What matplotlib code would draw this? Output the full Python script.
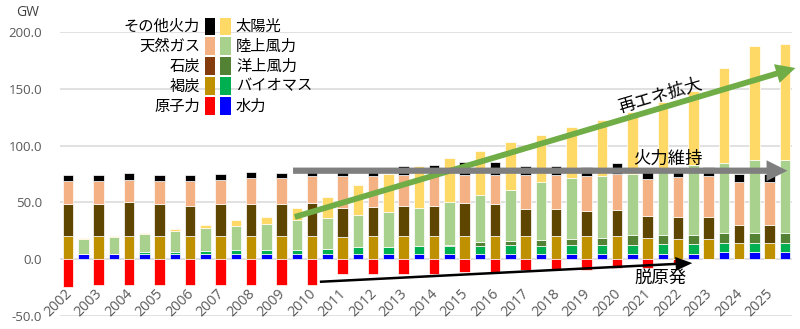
import matplotlib
matplotlib.use("Agg")
import matplotlib.pyplot as plt
from matplotlib.patches import Rectangle, FancyArrowPatch
import numpy as np

plt.rcParams['font.family'] = ['Noto Sans CJK JP', 'DejaVu Sans']

years = [str(y) for y in range(2002, 2026)]

# Conventional (GW)
lignite = [20, 20, 20, 20, 20, 20.3, 20.6, 20.6, 20.6, 19.4, 20.6, 20.6, 20, 20.6, 20.6, 20, 20, 20, 20, 19.1, 18.2, 18.2, 14.1, 14.1]
coal = [28.5, 28.5, 30.6, 28.5, 26.5, 28.2, 27.9, 27.6, 28.5, 25.6, 25.0, 25.9, 26.5, 28.5, 27.6, 24.1, 24.1, 22.6, 23.5, 19.1, 18.6, 18.6, 15.9, 15.9]
gas = [20, 20, 19.1, 20, 22, 21.2, 22.7, 23, 24.4, 27.9, 27.9, 27.9, 27.9, 25.3, 26.2, 30.3, 30.3, 30.9, 31.5, 32.4, 35.2, 36.7, 37.6, 37.6]
other = [5.9, 5.9, 5.9, 5.9, 5.9, 5.3, 5.6, 5.0, 3.0, 6.6, 6.8, 8.0, 8.8, 10.9, 10.9, 7.4, 8.0, 7.4, 9.4, 5.9, 8.3, 8.0, 7.4, 7.4]
nuclear = [-24.4, -23, -22.4, -22.4, -22.4, -22.4, -22.4, -22.4, -22.4, -13.2, -13.2, -13, -13, -11.2, -11, -9.7, -9.7, -9.7, -8.1, -8.1, -3.8, 0, 0, 0]

# Renewables (GW)
hydro = [4.4, 4.4, 4.4, 4.4, 4.4, 4.4, 4.4, 4.4, 4.4, 4.4, 4.4, 4.4, 4.9, 4.4, 4.4, 4.4, 4.4, 4.4, 4.4, 4.4, 4.4, 5.9, 5.9, 5.9]
biomass = [0.5, 0.5, 1.5, 2.1, 2.4, 3.5, 3.5, 4.1, 4.7, 5.9, 6.5, 7.4, 6.9, 7.4, 7.7, 7.4, 7.7, 7.7, 8.2, 8.8, 8.8, 8.8, 8.8, 8.8]
offshore = [0, 0, 0, 0, 0, 0, 0, 0, 0, 0, 0, 0, 1.1, 3.2, 4.1, 5.2, 6.1, 7.0, 8.3, 8.0, 8.0, 8.7, 8.8, 8.8]
onshore = [12.7, 14.8, 16.2, 18.2, 20.6, 21.5, 23.0, 25.9, 27.1, 28.5, 30.9, 33.2, 37.1, 41.5, 45, 50.6, 53, 54.4, 54.1, 56.8, 61.8, 61.3, 64, 64]
solar = [0.9, 0.6, 1.4, 2.1, 2.9, 4.7, 6.5, 10.6, 18.2, 26.5, 32.9, 36.8, 38.8, 39.1, 41.8, 42.1, 45, 49.2, 55, 60, 64.9, 83.2, 100.1, 101.6]

conv_labels = ['その他火力', '天然ガス', '石炭', '褐炭', '原子力']
ren_labels = ['太陽光', '陸上風力', '洋上風力', 'バイオマス', '水力']

c_other, c_gas, c_coal_bar, c_coal_leg, c_lig, c_nuc = '#000000', '#F4B183', '#5F4600', '#843C0C', '#BF9000', '#FF0000'
c_solar, c_on, c_off, c_bio, c_hyd = '#FFD966', '#A9D18E', '#548235', '#00B050', '#0000FF'

fig = plt.figure(figsize=(8, 3.29), dpi=100)
ax = fig.add_axes([60/800, 13/329, 732/800, 284/329])

x = np.arange(len(years))
xc = x - 0.254
xr = x + 0.254
w = 0.34
ek = dict(edgecolor='white', linewidth=0.5)

b = np.zeros(len(years))
for vals, col in [(lignite, c_lig), (coal, c_coal_bar), (gas, c_gas), (other, c_other)]:
    ax.bar(xc, vals, w, bottom=b, color=col, **ek)
    b = b + np.array(vals)
ax.bar(xc, nuclear, w, color=c_nuc, **ek)

b = np.zeros(len(years))
for vals, col in [(hydro, c_hyd), (biomass, c_bio), (offshore, c_off), (onshore, c_on), (solar, c_solar)]:
    ax.bar(xr, vals, w, bottom=b, color=col, **ek)
    b = b + np.array(vals)

ax.set_ylim(-50, 200)
ax.set_xlim(-0.52, 23.48)
yt = [-50, 0, 50, 100, 150, 200]
ax.set_yticks(yt)
ax.set_yticklabels([f"{v:.1f}" for v in yt], color='#595959', fontsize=9.5, family=['Open Sans', 'DejaVu Sans'])
ax.tick_params(axis='y', length=0, pad=13)
ax.set_xticks([])
ax.yaxis.grid(True, color='#D9D9D9', linewidth=1.1)
ax.set_axisbelow(True)
for s in ax.spines.values():
    s.set_visible(False)

for i, yl in enumerate(years):
    ax.text(i - 0.58, -38.6, yl, rotation=45, rotation_mode='anchor', ha='center', va='center',
            color='#595959', fontsize=10.3, family=['Open Sans', 'DejaVu Sans'])

fig.text(28/800, 1 - 12/329, 'GW', ha='center', va='center', fontsize=10, color='#404040',
         family=['Open Sans', 'DejaVu Sans'])

# Arrows
def arrow(p0, p1, color, tw, hw, hl):
    a = FancyArrowPatch(p0, p1, arrowstyle=f'simple,tail_width={tw},head_width={hw},head_length={hl}',
                        mutation_scale=10, color=color, lw=0, clip_on=False, zorder=5)
    ax.add_patch(a)

arrow((7.09, 36.5), (23.68, 169), '#70AD47', 0.42, 1.4, 1.4)
arrow((7.03, 77.9), (23.42, 77.9), '#7F7F7F', 0.45, 1.5, 1.5)
arrow((7.91, -20), (20.3, -3.3), '#000000', 0.18, 1.0, 1.2)

ax.text(19.16, 144, '再エネ拡大', rotation=16.5, rotation_mode='anchor', ha='center', va='center', fontsize=12.5, zorder=6)
ax.text(19.42, 88.4, '火力維持', ha='center', va='center', fontsize=12.5, zorder=6)
ax.text(19.16, -16.5, '脱原発', ha='center', va='center', fontsize=12.5, zorder=6)

# Manual legend
row_y = [26.6, 46.2, 66.3, 85.8, 106.3]
lcols = [c_other, c_gas, c_coal_leg, c_lig, c_nuc]
rcols = [c_solar, c_on, c_off, c_bio, c_hyd]
for ry, ll, rl, lc, rc in zip(row_y, conv_labels, ren_labels, lcols, rcols):
    fig.patches.append(Rectangle((205/800, 1 - (ry + 8.8)/329), 10/800, 17.6/329,
                                 transform=fig.transFigure, facecolor=lc, edgecolor='none'))
    fig.patches.append(Rectangle((220/800, 1 - (ry + 8.8)/329), 10.5/800, 17.6/329,
                                 transform=fig.transFigure, facecolor=rc, edgecolor='none'))
    fig.text(200/800, 1 - ry/329, ll, ha='right', va='center', fontsize=11)
    fig.text(236/800, 1 - ry/329, rl, ha='left', va='center', fontsize=11)

fig.savefig('out.png', dpi=100)
